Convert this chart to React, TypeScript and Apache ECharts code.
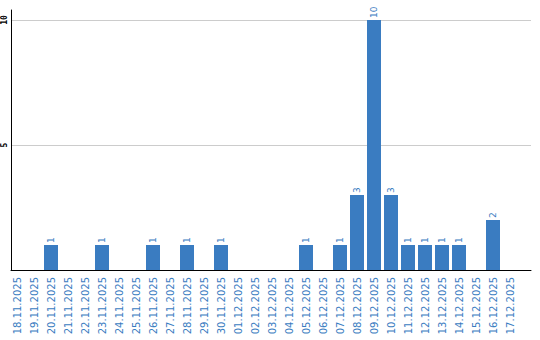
import React, { useEffect, useRef } from "react";
import * as echarts from "echarts";

const categories: string[] = [
  "18.11.2025", "19.11.2025", "20.11.2025", "21.11.2025", "22.11.2025",
  "23.11.2025", "24.11.2025", "25.11.2025", "26.11.2025", "27.11.2025",
  "28.11.2025", "29.11.2025", "30.11.2025", "01.12.2025", "02.12.2025",
  "03.12.2025", "04.12.2025", "05.12.2025", "06.12.2025", "07.12.2025",
  "08.12.2025", "09.12.2025", "10.12.2025", "11.12.2025", "12.12.2025",
  "13.12.2025", "14.12.2025", "15.12.2025", "16.12.2025", "17.12.2025",
];

const counts: number[] = [
  0, 0, 1, 0, 0, 1, 0, 0, 1, 0,
  1, 0, 1, 0, 0, 0, 0, 1, 0, 1,
  3, 10, 3, 1, 1, 1, 1, 0, 2, 0,
];

const yTickLabels: number[] = [5, 10];

const BLUE = "#3a7cc1";

export default function App() {
  const ref = useRef<HTMLDivElement>(null);

  useEffect(() => {
    if (!ref.current) return;
    const chart = echarts.init(ref.current, undefined, { renderer: "svg" });
    chart.setOption({
      animation: false,
      grid: [
        { left: 8.5, top: 10, width: 510, bottom: 70, containLabel: false },
        { left: 10.5, top: 10, right: 9, bottom: 70, containLabel: false },
      ],
      xAxis: [
        {
          type: "category",
          gridIndex: 0,
          data: categories,
          axisLine: { show: false },
          axisTick: { show: false },
          splitLine: { show: false },
          axisLabel: {
            interval: 0,
            rotate: 90,
            margin: 7,
            color: BLUE,
            fontFamily: "DejaVu Sans",
            fontSize: 10,
          },
        },
        {
          type: "value",
          gridIndex: 1,
          min: 0,
          max: 1,
          axisLine: { show: true, lineStyle: { color: "#000", width: 1 } },
          axisTick: { show: false },
          axisLabel: { show: false },
          splitLine: { show: false },
        },
      ],
      yAxis: [
        {
          type: "value",
          gridIndex: 0,
          min: 0,
          max: 10.4,
          show: false,
          splitLine: { show: false },
        },
        {
          type: "value",
          gridIndex: 1,
          min: 0,
          max: 10.4,
          interval: 5,
          axisLine: { show: true, lineStyle: { color: "#000", width: 1 } },
          axisTick: { show: false },
          splitLine: {
            show: true,
            showMinLine: false,
            showMaxLine: false,
            lineStyle: { color: "#cccccc", width: 1 },
          },
          axisLabel: {
            rotate: 90,
            margin: 3,
            color: "#000",
            fontFamily: "DejaVu Sans Mono",
            fontWeight: "bold",
            fontSize: 8,
            showMinLabel: false,
            showMaxLabel: false,
            formatter: (v: number) => (yTickLabels.includes(v) ? String(v) : ""),
          },
        },
      ],
      series: [
        {
          type: "bar",
          xAxisIndex: 0,
          yAxisIndex: 0,
          data: counts,
          barWidth: 14,
          itemStyle: { color: BLUE },
          label: {
            show: true,
            position: "top",
            rotate: 90,
            align: "left",
            verticalAlign: "middle",
            distance: 2,
            color: BLUE,
            fontFamily: "DejaVu Sans",
            fontSize: 9,
            formatter: (p: any) => (p.value ? String(p.value) : ""),
          },
        },
      ],
    });
    return () => chart.dispose();
  }, []);

  return (
    <div
      ref={ref}
      style={{ position: "fixed", left: 0, top: 0, width: 540, height: 340, background: "#fff" }}
    />
  );
}
